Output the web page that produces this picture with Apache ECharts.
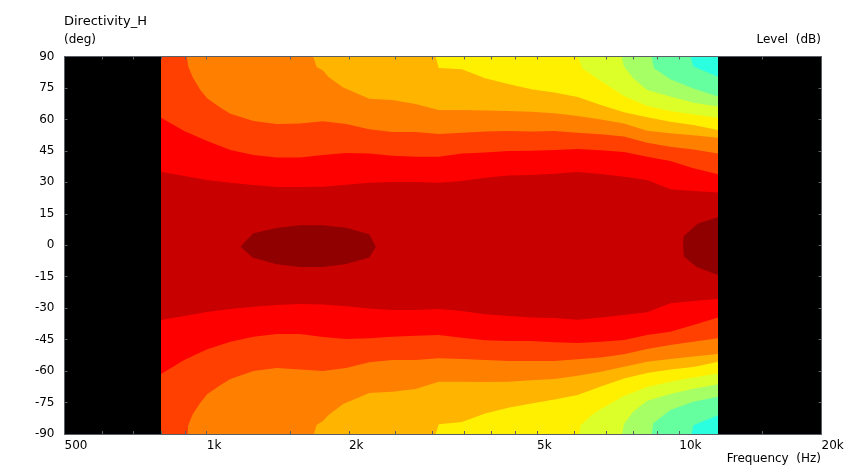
<!DOCTYPE html>
<html><head><meta charset="utf-8">
<style>html,body{margin:0;padding:0;background:#fff}#c{width:848px;height:469px}</style>
<script src="https://cdn.jsdelivr.net/npm/echarts@6/dist/echarts.min.js"></script>
</head><body><div id="c"></div>
<script>
const xLabels = [500, 1000, 2000, 5000, 10000, 20000];
const xTicks = [600,700,800,900,1000,1500,2000,2500,3000,3500,4000,4500,5000,6000,7000,8000,9000,10000,15000];
const F = [800,896,1002,1122,1256,1406,1574,1762,1972,2208,2471,2766,3098,3468,3882,4345,4864,5445,6095,6823,7638,8551,9572,10715,12060];
const fMin = 800, fMax = 12060, fInner = 860;

// contour edges: explicit [Hz, deg] points, then degrees on F from index k
const up1 = [35.1,33.0,31.1,29.8,28.7,27.8,27.8,27.9,28.9,29.8,30.2,30.2,29.8,30.6,32.2,33.2,33.5,34.1,34.9,34.0,32.7,31.1,26.7,25.9,25.1];
const lo1 = [-35.6,-33.7,-31.8,-30.4,-29.3,-28.5,-28.0,-28.3,-29.1,-30.2,-30.9,-30.9,-30.4,-31.4,-32.9,-33.7,-34.4,-34.7,-35.5,-34.5,-33.3,-32.0,-27.7,-26.6,-25.6];
const up2 = [60.8,54.5,49.7,45.4,43.0,41.8,41.8,43.0,44.0,43.7,42.7,42.2,42.2,43.7,44.2,44.9,45.1,45.4,45.9,45.3,44.5,42.2,40.2,36.7,33.8];
const lo2 = [-61.4,-54.7,-49.6,-46.0,-43.6,-42.3,-42.3,-43.8,-44.7,-44.4,-43.6,-43.1,-42.8,-44.1,-45.3,-45.7,-45.7,-46.3,-46.6,-46.0,-45.2,-42.8,-41.2,-38.0,-34.4];
const up3Head = [[800,90],[907,90],[914,85.2],[934,80.1],[967,74.4],[1002,70.1],[1066,65.8]];
const up3 = [62.7,59.3,57.8,58.1,59.1,57.8,55.3,54.0,54.0,53.1,53.7,54.2,54.5,54.2,54.5,53.7,52.9,51.8,48.9,47.0,45.7,43.8];
const lo3Head = [[800,-90],[911,-90],[914,-85.7],[934,-80.6],[967,-75.4],[1002,-71.1],[1066,-66.9]];
const lo3 = [-63.8,-60.0,-58.5,-59.2,-60.0,-58.5,-55.8,-54.7,-54.7,-53.9,-54.2,-54.7,-55.2,-55.2,-55.2,-54.4,-53.5,-52.0,-49.5,-47.6,-46.0,-44.4];
const up4Head = [[fInner,90],[1680,90],[1708,85.0],[1762,83.3],[1808,80.4],[1945,75.2]];
const up4 = [69.9,69.3,67.4,64.5,64.5,64.2,64.0,63.7,62.9,61.6,60.0,58.1,54.6,53.4,52.4,51.3];
const lo4Head = [[fInner,-90],[1686,-90],[1708,-85.7],[1762,-83.8],[1808,-81.0],[1945,-75.7]];
const lo4 = [-70.5,-69.8,-68.5,-65.1,-65.1,-65.2,-65.1,-64.4,-63.8,-62.2,-60.3,-57.9,-55.5,-54.2,-53.1,-51.9];
const up5Head = [[fInner,90],[3050,90]];
const up5 = [84.5,83.9,79.6,76.9,74.4,72.8,70.7,66.9,63.4,61.0,58.9,57.3,55.0];
const lo5Head = [[fInner,-90],[3050,-90]];
const lo5 = [-85.4,-84.3,-80.2,-77.5,-75.4,-73.6,-71.4,-67.4,-63.5,-60.9,-59.3,-58.1,-55.5];
const up6Head = [[fInner,90],[6110,90],[6230,84.4]];
const up6 = [78.3,71.2,66.4,64.0,62.4,60.8];
const lo6Head = [[fInner,-90],[6140,-90],[6190,-85.7],[6520,-81.0]];
const lo6 = [-78.1,-71.9,-67.6,-65.1,-63.1,-61.2];
const up7Head = [[fInner,90],[7551,90],[7638,85.2],[7990,79.6]];
const up7 = [74.0,70.9,68.0,66.1];
const lo7Head = [[fInner,-90],[7573,-90],[7638,-85.2],[7990,-79.4]];
const lo7 = [-74.1,-70.9,-68.4,-66.3];
const up8Head = [[fInner,90],[8738,90],[8844,84.4]];
const up8 = [79.1,74.8,70.9];
const lo8Head = [[fInner,-90],[8738,-90],[8810,-84.9]];
const lo8 = [-78.6,-74.6,-72.2];
const up9Head = [[fInner,90],[10563,90],[10715,85.2]];
const up9 = [80.4];
const lo9Head = [[fInner,-90],[10617,-90],[10715,-85.8]];
const lo9 = [-81.0];
const blobA = [[1179,-0.7],[1214,2.5],[1256,5.7],[1406,8.2],[1574,9.5],[1762,9.5],[1972,8.4],[2208,5.2],[2280,-0.7],[2208,-5.8],[1972,-8.9],[1762,-10.4],[1574,-10.4],[1406,-9.1],[1250,-5.9]];
const blobB = [[12060,13.3],[10950,10.4],[10226,4.4],[10193,2.5],[10193,0],[10226,-5.4],[10910,-10.5],[12060,-14.2]];

const colors = ['#2affe0','#66ffa0','#a6ff64','#dcff2a','#fff000','#ffb400','#ff8000','#ff4000','#ff0000','#c80000','#900000'];

function curve(head, k, degs){ return head.concat(degs.map((d,i)=>[F[k+i],d])); }
function band(upper, lower){ return upper.concat(lower.slice().reverse()); }
const regions = [
  [[fInner,90],[fMax,90],[fMax,-90],[fInner,-90]],
  band(curve(up9Head,24,up9), curve(lo9Head,24,lo9)),
  band(curve(up8Head,22,up8), curve(lo8Head,22,lo8)),
  band(curve(up7Head,21,up7), curve(lo7Head,21,lo7)),
  band(curve(up6Head,19,up6), curve(lo6Head,19,lo6)),
  band(curve(up5Head,12,up5), curve(lo5Head,12,lo5)),
  band(curve(up4Head,9,up4), curve(lo4Head,9,lo4)),
  band(curve(up3Head,3,up3), curve(lo3Head,3,lo3)),
  band(curve([],0,up2), curve([],0,lo2)),
  band(curve([],0,up1), curve([],0,lo1)),
  blobA,
  blobB
];
const font = 'Tahoma, "DejaVu Sans", sans-serif';
const txt = '#000';
const line = '#5a5f66';
const fs = 12;

// the measured band edges at 800 Hz and the top frequency fall on whole pixels
function toPixel(p, api){
  const c = api.coord(p);
  if (p[0] === fMin || p[0] === fMax) c[0] = Math.round(c[0]);
  return c;
}
const series = regions.map((pts,i)=>({
  type:'custom', coordinateSystem:'cartesian2d', silent:true, clip:true, animation:false, z:2+i,
  encode:{x:0,y:1},
  data:pts,
  renderItem:(params,api)=> params.dataIndex!==0 ? null : ({
    type:'polygon',
    shape:{points:pts.map(p=>toPixel(p,api))},
    style:{fill:colors[Math.min(i,colors.length-1)]}
  })
}));

const xCommon = {type:'log',logBase:10,min:500,max:20000,splitLine:{show:false},minorTick:{show:false},z:20,
  axisLine:{show:true,onZero:false,lineStyle:{color:line,width:1}},
  axisTick:{show:true,inside:true,length:3,lineStyle:{color:line,width:1},customValues:xTicks}};
const yCommon = {type:'value',min:-90,max:90,interval:15,splitLine:{show:false},z:20,
  axisLine:{show:true,onZero:false,lineStyle:{color:line,width:1}},
  axisTick:{show:true,inside:true,length:3,lineStyle:{color:line,width:1}}};

const chart = echarts.init(document.getElementById('c'),null,{renderer:'canvas'});
const text = (o,size)=>({type:'text',z:50,style:Object.assign({font:(size||fs)+'px '+font,fill:txt,textVerticalAlign:'middle'},o)});
chart.setOption({
  animation:false,
  backgroundColor:'#fff',
  grid:{left:64.5,right:26.5,top:56.5,bottom:35,containLabel:false,show:true,backgroundColor:'#000',borderWidth:0},
  xAxis:[
    Object.assign({},xCommon,{position:'bottom',
      axisLabel:{show:true,customValues:xLabels,align:'left',margin:6,color:txt,fontFamily:font,fontSize:fs,
        formatter:v=>v>=1000?(v/1000)+'k':String(v)}}),
    Object.assign({},xCommon,{position:'top',axisLabel:{show:false}})
  ],
  yAxis:[
    Object.assign({},yCommon,{position:'left',axisLabel:{show:true,margin:10,color:txt,fontFamily:font,fontSize:fs}}),
    Object.assign({},yCommon,{position:'right',axisLabel:{show:false}})
  ],
  graphic:[
    text({x:64,y:22,text:'Directivity_H'},13),
    text({x:64,y:40,text:'(deg)'}),
    text({x:821,y:40,text:'Level  (dB)',textAlign:'right'}),
    text({x:821,y:459,text:'Frequency  (Hz)',textAlign:'right'})
  ],
  series
});
</script></body></html>
